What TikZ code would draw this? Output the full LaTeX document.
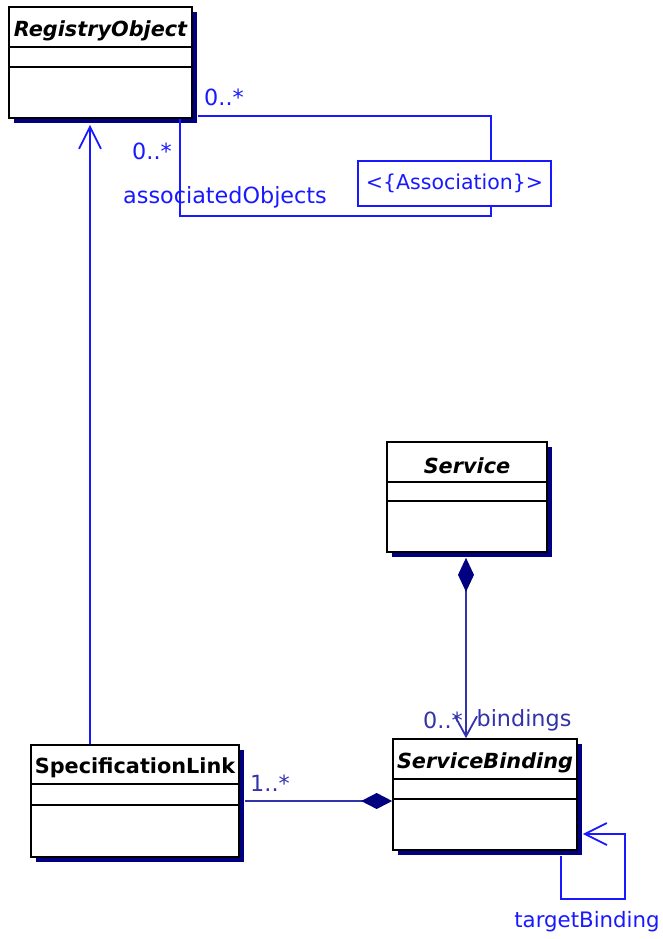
\documentclass[tikz,border=0pt]{standalone}
\usepackage{fontspec}
\setmainfont{DejaVu Sans}
\usetikzlibrary{arrows.meta,shadows,calc}
\definecolor{linkblue}{RGB}{25,25,255}
\definecolor{compblue}{RGB}{50,50,170}
\definecolor{shadownavy}{RGB}{0,0,128}
\tikzset{
  classbox/.style={draw=black, line width=1.7pt, fill=white, rectangle, inner sep=0pt,
    drop shadow={shadow xshift=5pt, shadow yshift=-5pt, fill=shadownavy, opacity=1}},
  sepline/.style={draw=black, line width=1.6pt},
  ctitle/.style={font=\fontsize{20.8}{24}\selectfont\bfseries, inner sep=0pt, text=black},
  lbl/.style={font=\fontsize{22.3}{26}\selectfont, inner sep=0pt, text=linkblue},
  dlbl/.style={font=\fontsize{22.3}{26}\selectfont, inner sep=0pt, text=compblue},
  assocline/.style={draw=linkblue, line width=1.8pt},
  compline/.style={draw=compblue, line width=1.8pt},
  openhead/.style={-{Straight Barb[length=22pt,width=22pt,line width=1.8pt]}},
}
\begin{document}
\begin{tikzpicture}[x=1pt,y=-1pt]
\useasboundingbox (0,0) rectangle (663,939);
% classes
\node[classbox, minimum width=183pt, minimum height=111pt] (ro) at (100.5,62.5) {};
\node[classbox, minimum width=160pt, minimum height=110pt] (sv) at (467,497) {};
\node[classbox, minimum width=184pt, minimum height=111pt] (sb) at (485,794.5) {};
\node[classbox, minimum width=208pt, minimum height=112pt] (sl) at (135,801) {};
% separators
\draw[sepline] (ro.west |- 0,47) -- (ro.east |- 0,47) (ro.west |- 0,67) -- (ro.east |- 0,67);
\draw[sepline] (sv.west |- 0,482) -- (sv.east |- 0,482) (sv.west |- 0,501) -- (sv.east |- 0,501);
\draw[sepline] (sb.west |- 0,779) -- (sb.east |- 0,779) (sb.west |- 0,799) -- (sb.east |- 0,799);
\draw[sepline] (sl.west |- 0,784) -- (sl.east |- 0,784) (sl.west |- 0,805) -- (sl.east |- 0,805);
% titles
\node[ctitle] (rot) at (100.5,31) {\itshape RegistryObject};
\node[ctitle] (svt) at (467,466) {\itshape Service};
\node[ctitle] (sbt) at (485,763) {\itshape ServiceBinding};
\node[ctitle] (slt) at (135,768) {SpecificationLink};
% association class box
\node[draw=linkblue, line width=1.8pt, fill=white, minimum width=193pt, minimum height=45pt, inner sep=0pt,
  font=\fontsize{20.5}{24}\selectfont, text=linkblue] (as) at (454.5,183.5) {<\{Association\}>};
% association lines
\draw[assocline] ([xshift=5pt,yshift=3pt]ro.south east) -| ([xshift=36.5pt]as.north);
\draw[assocline] ([xshift=36.5pt]as.south) -- ++(0,9) -| ([xshift=79.5pt]ro.south);
\node[lbl] (l1) at (224,97) {0..*};
\node[lbl] (l2) at (152,151) {0..*};
\node[lbl] (l3) at (225,197) {associatedObjects};
% SpecificationLink -> RegistryObject
\draw[assocline, openhead] ([xshift=-45pt]sl.north) -- ([xshift=-10.5pt,yshift=-6pt]ro.south);
% Service <>-> ServiceBinding
\draw[compline, {Diamond[length=34pt,width=16pt,fill=shadownavy,color=shadownavy]}-{Straight Barb[length=20pt,width=22pt,line width=1.8pt]}]
  ([xshift=-1pt,yshift=-5pt]sv.south) -- ([xshift=-1pt]sv.south |- sb.north);
\node[dlbl] (l4) at (443,720) {0..*};
\node[dlbl] (l5) at (524,720) {bindings};
% SpecificationLink ---<> ServiceBinding
\draw[compline, -{Diamond[length=31pt,width=16pt,fill=shadownavy,color=shadownavy]}]
  ([xshift=5pt]sl.east) -- (sb.west |- sl.east);
\node[dlbl] (l6) at (270,783) {1..*};
% self loop
\draw[assocline, openhead] ([xshift=76pt,yshift=-5pt]sb.south) |- ++(64,43) |- ([xshift=5pt]sb.east |- 0,834);
\node[lbl, font=\fontsize{21.3}{25}\selectfont] (l7) at (587,922) {targetBinding};
\end{tikzpicture}
\end{document}
